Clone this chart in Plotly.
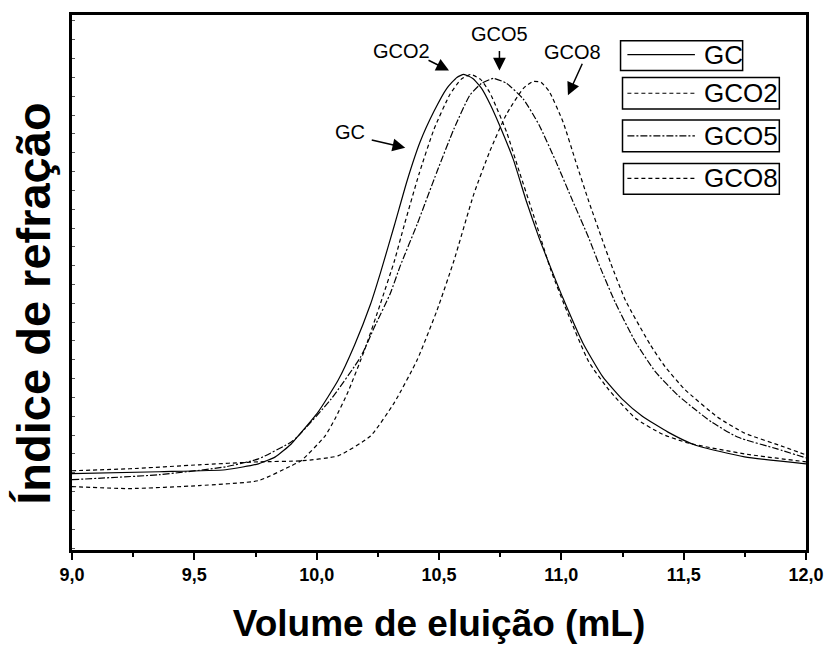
import plotly.graph_objects as go

# ---------------- data ----------------
gc_v = [9.000, 9.357, 9.628, 9.762, 9.831, 9.896, 9.924, 10.005, 10.087, 10.155, 10.220, 10.261,
        10.318, 10.370, 10.423, 10.480, 10.532, 10.573, 10.601, 10.638, 10.674, 10.711, 10.747,
        10.804, 10.857, 10.909, 10.958, 11.007, 11.088, 11.169, 11.250, 11.331, 11.436, 11.546,
        11.749, 12.000]
gc_y = [77, 79, 81, 87, 94, 107, 115, 139, 171, 207, 248, 280, 328, 373, 412, 443, 466, 477,
        480, 476, 466, 449, 429, 394, 352, 315, 284, 254, 209, 175, 152, 135, 119, 106, 94, 87]

gco2_v = [9.000, 9.235, 9.519, 9.762, 9.896, 9.936, 10.034, 10.074, 10.127, 10.196, 10.261, 10.318,
          10.358, 10.419, 10.480, 10.545, 10.590, 10.630, 10.670, 10.707, 10.776, 10.828, 10.885,
          10.958, 11.031, 11.112, 11.193, 11.303, 11.412, 11.518, 11.749, 12.000]
gco2_y = [64, 62, 65, 70, 85, 90, 115, 132, 159, 202, 249, 292, 328, 380, 425, 460, 475, 480,
          475, 462, 422, 382, 339, 282, 236, 190, 162, 133, 117, 108, 97, 89]

gco5_v = [9.000, 9.357, 9.628, 9.762, 9.896, 9.924, 10.058, 10.180, 10.236, 10.301, 10.342, 10.411,
          10.492, 10.561, 10.626, 10.674, 10.723, 10.776, 10.845, 10.909, 10.978, 11.047, 11.112,
          11.161, 11.222, 11.303, 11.384, 11.477, 11.546, 11.615, 11.720, 11.882, 12.000]
gco5_y = [71, 76, 84, 92, 109, 115, 152, 195, 225, 259, 287, 329, 382, 425, 459, 471, 476, 471,
          455, 429, 392, 352, 315, 284, 249, 210, 180, 156, 142, 129, 114, 102, 93]

gco8_v = [9.000, 9.235, 9.519, 9.762, 9.936, 10.087, 10.220, 10.318, 10.411, 10.492, 10.561, 10.642,
          10.707, 10.776, 10.845, 10.885, 10.917, 10.950, 11.007, 11.059, 11.112, 11.169, 11.201,
          11.262, 11.364, 11.424, 11.505, 11.639, 11.749, 11.911, 12.000]
gco8_y = [80, 82, 86, 89, 90, 95, 115, 149, 192, 242, 292, 359, 402, 440, 466, 473, 472, 463,
          432, 392, 352, 312, 290, 252, 207, 185, 162, 134, 118, 104, 96]

series_names = ["GC", "GCO2", "GCO5", "GCO8"]
x_tick_vals = [9.0, 9.5, 10.0, 10.5, 11.0, 11.5, 12.0]

# annotation labels: (text, text_x, text_y, tip_x, tip_y, tail_dx_px, tail_dy_px)
labels = [
    ("GC",   10.135, 422, 10.362, 406, -35, -8),
    ("GCO2", 10.346, 504, 10.541, 484, -22, -11),
    ("GCO5", 10.747, 521, 10.747, 484, 0, -21),
    ("GCO8", 11.047, 503, 11.027, 459, 15, -33),
]

FONT = "Liberation Sans, Arial, sans-serif"
dash_styles = ["solid", "4px,3px", "7px,2px,2px,2px", "4px,3px"]
xs = [gc_v, gco2_v, gco5_v, gco8_v]
ys = [gc_y, gco2_y, gco5_y, gco8_y]

fig = go.Figure()
for name, xv, yv, d in zip(series_names, xs, ys, dash_styles):
    fig.add_trace(go.Scatter(x=xv, y=yv, mode="lines", name=name,
                             line=dict(color="black", width=1.2, dash=d,
                                       shape="spline", smoothing=0.5),
                             showlegend=False))

# arrow labels
for text, tx, ty, px, py, dx, dy in labels:
    fig.add_annotation(x=tx, y=ty, xref="x", yref="y", text=text, showarrow=False,
                       font=dict(family=FONT, size=20, color="black"))
    fig.add_annotation(x=px, y=py, xref="x", yref="y", text="", showarrow=True,
                       ax=dx, ay=dy, axref="pixel", ayref="pixel",
                       arrowhead=2, arrowsize=1.7, arrowwidth=1.5, arrowcolor="black",
                       standoff=0, startstandoff=0)

# custom boxed legend (data coordinates of the fixed axes)
legend_boxes = [  # x0, x1, y0, y1, sample y
    (11.242, 11.741, 484, 514, 500),
    (11.250, 11.891, 445, 477, 461),
    (11.250, 11.891, 402, 434, 418),
    (11.254, 11.891, 359, 390, 375),
]
for (x0, x1, y0, y1, ys_), name, d in zip(legend_boxes, series_names, dash_styles):
    fig.add_shape(type="rect", xref="x", yref="y", x0=x0, x1=x1, y0=y0, y1=y1,
                  line=dict(color="black", width=1.5), fillcolor="white", layer="above")
    fig.add_shape(type="line", xref="x", yref="y", x0=11.270, x1=11.546, y0=ys_, y1=ys_,
                  line=dict(color="black", width=1.2, dash=d), layer="above")
    fig.add_annotation(x=11.575, y=ys_, xref="x", yref="y", text=name, showarrow=False,
                       xanchor="left", yanchor="middle",
                       font=dict(family=FONT, size=26, color="black"))

# y-axis title (placed as rotated text, as in the reference)
fig.add_annotation(x=-0.0527, y=0.461, xref="paper", yref="paper", text="Índice de refração",
                   textangle=-90, showarrow=False, xanchor="center", yanchor="middle",
                   font=dict(family=FONT, size=47, color="black", weight="bold"))

fig.update_layout(
    width=836, height=649,
    margin=dict(l=72, r=24, t=12, b=97),
    paper_bgcolor="white", plot_bgcolor="white",
    separators=",.",
    font=dict(family=FONT, color="black"),
    xaxis=dict(
        range=[9, 12], tickvals=x_tick_vals, tickformat=".1f",
        showline=True, linewidth=2.5, linecolor="black", mirror=True,
        ticks="outside", ticklen=7, tickwidth=2, tickcolor="black",
        minor=dict(dtick=0.25, ticks="outside", ticklen=4, tickwidth=2, tickcolor="black"),
        showgrid=False, zeroline=False,
        tickfont=dict(family=FONT, size=18, color="black", weight="bold"),
        title=dict(text="Volume de eluição (mL)", standoff=26,
                   font=dict(family=FONT, size=37, color="black", weight="bold")),
    ),
    yaxis=dict(
        range=[0, 540], showticklabels=False,
        showline=True, linewidth=2.5, linecolor="black", mirror=True,
        ticks="inside", ticklen=3, tickwidth=1, tickcolor="#555", tick0=2, dtick=19,
        showgrid=False, zeroline=False,
    ),
)

fig.write_html("out.html")
